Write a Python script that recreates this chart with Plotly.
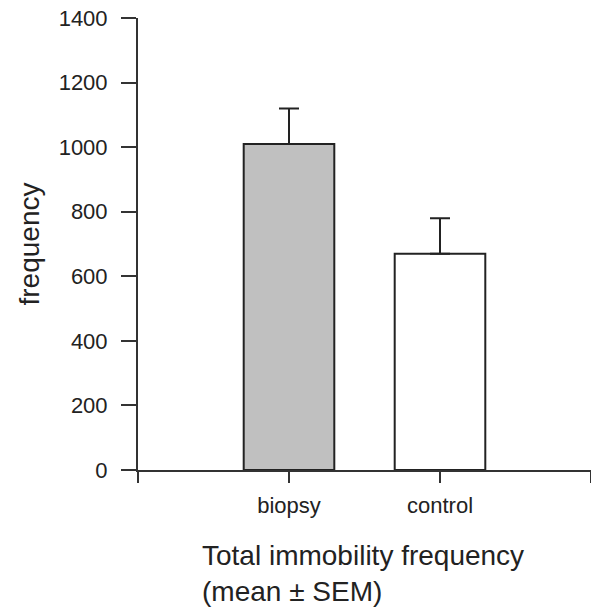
import plotly.graph_objects as go

categories = ["biopsy", "control"]
positions = [1, 2]
means = [1010, 670]
sem = [110, 110]
fill_colors = ["#c0c0c0", "#ffffff"]

y_ticks = [0, 200, 400, 600, 800, 1000, 1200, 1400]
x_tickvals = [0, 1, 2, 3]
x_ticktext = ["", "biopsy", "control", ""]

ink = "#222222"
font_family = "Liberation Sans, Arial, sans-serif"

fig = go.Figure()
fig.add_trace(go.Bar(
    x=positions,
    y=means,
    width=0.6,
    marker=dict(color=fill_colors, line=dict(color=ink, width=2)),
    error_y=dict(type="data", array=sem, symmetric=False, arrayminus=[0, 0],
                 color=ink, thickness=2, width=10),
    showlegend=False,
    hoverinfo="skip",
))

fig.update_layout(
    width=591, height=607,
    margin=dict(l=138, r=0, t=17.5, b=136.5, pad=0),
    paper_bgcolor="white", plot_bgcolor="white",
    font=dict(family=font_family, color=ink),
    bargap=0.4,
    xaxis=dict(
        range=[0, 3],
        tickmode="array", tickvals=x_tickvals, ticktext=x_ticktext,
        showline=True, linecolor="#333333", linewidth=2,
        ticks="outside", ticklen=11, tickwidth=2, tickcolor="#333333",
        showgrid=False, zeroline=False,
        tickfont=dict(size=22, family=font_family, color=ink),
        ticklabelstandoff=4,
    ),
    yaxis=dict(
        range=[0, 1400],
        tickmode="array", tickvals=y_ticks,
        showline=True, linecolor="#333333", linewidth=2,
        ticks="outside", ticklen=15, tickwidth=2, tickcolor="#333333",
        showgrid=False, zeroline=False,
        tickfont=dict(size=22, family=font_family, color=ink),
        ticklabelstandoff=9,
    ),
    annotations=[
        dict(text="frequency", xref="paper", yref="paper",
             x=(28.5 - 138) / 453, y=0.5, xanchor="center", yanchor="middle",
             textangle=-90, showarrow=False,
             font=dict(size=28, family=font_family, color=ink)),
        dict(text="Total immobility frequency<br>(mean ± SEM)",
             xref="paper", yref="paper",
             x=(200 - 138) / 453, y=(470.5 - 539) / 453,
             xanchor="left", yanchor="top", align="left", showarrow=False,
             font=dict(size=28, family=font_family, color=ink)),
    ],
)

fig.write_html(
    "out.html",
    config={"displayModeBar": False},
    post_script="document.body.style.margin='0';document.body.style.overflow='hidden';",
)
